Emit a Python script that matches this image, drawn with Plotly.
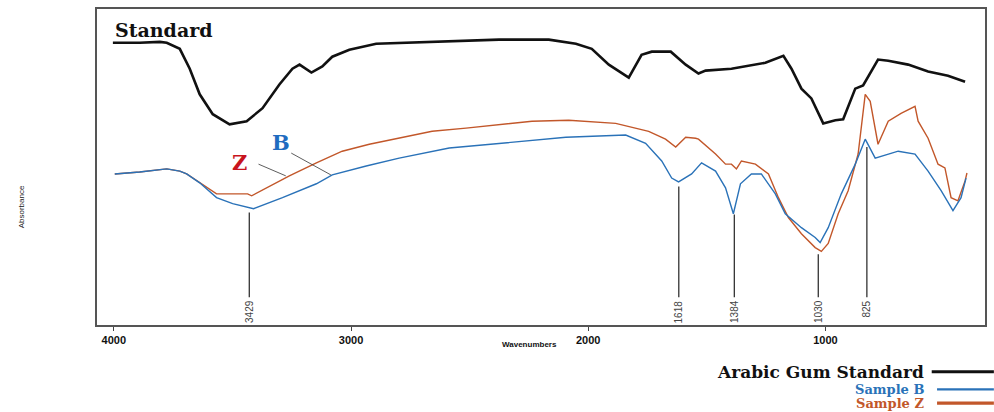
import numpy as np
import plotly.graph_objects as go

# ---------------- data ----------------
std_wn = [4004, 3891, 3806, 3777, 3722, 3680, 3638, 3583, 3512, 3440, 3373, 3302, 3247, 3217,
          3167, 3121, 3079, 3007, 2894, 2658, 2376, 2166, 2052, 1985, 1913, 1829, 1775, 1732,
          1652, 1589, 1535, 1505, 1396, 1253, 1177, 1143, 1101, 1059, 1009, 958, 925, 874, 841,
          778, 735, 651, 567, 483, 411]
std_abs = [89.3, 89.3, 89.6, 89.3, 87.4, 81.1, 73.0, 66.7, 63.5, 64.5, 68.6, 76.1, 81.1, 82.4,
           79.9, 81.8, 84.9, 87.1, 89.0, 89.6, 90.3, 90.3, 89.0, 87.4, 82.4, 78.3, 85.5, 86.5,
           86.5, 82.4, 79.6, 80.5, 81.1, 83.0, 85.2, 81.1, 74.8, 71.7, 63.8, 64.8, 65.1, 74.8, 75.8,
           84.0, 83.6, 82.4, 80.2, 78.9, 77.0]

z_wn = [3996, 3891, 3777, 3722, 3693, 3638, 3567, 3491, 3436, 3419, 3356, 3260, 3146, 3037,
        2923, 2797, 2658, 2515, 2376, 2237, 2082, 1884, 1745, 1674, 1631, 1589, 1547, 1535,
        1463, 1421, 1396, 1375, 1354, 1295, 1240, 1198, 1156, 1101, 1043, 1017, 988, 946, 904,
        862, 832, 811, 778, 735, 681, 622, 609, 567, 525, 496, 470, 441, 411, 403]
z_abs = [47.8, 48.4, 49.4, 48.7, 47.8, 45.0, 41.5, 41.5, 41.5, 40.9, 43.4, 47.2, 51.3, 55.0,
         57.2, 59.1, 61.3, 62.3, 63.5, 64.5, 64.8, 63.8, 61.3, 58.8, 56.3, 59.4, 59.1, 58.8,
         54.1, 50.9, 50.9, 49.4, 51.9, 50.9, 47.8, 40.3, 34.0, 28.9, 24.5, 23.3, 25.8, 35.2, 42.5,
         54.1, 73.0, 70.8, 57.2, 64.5, 67.0, 69.2, 64.5, 59.1, 50.9, 49.7, 40.3, 39.3, 45.6, 48.1]

b_wn = [3996, 3891, 3777, 3722, 3693, 3638, 3567, 3499, 3411, 3289, 3146, 3079, 2936, 2797,
        2586, 2376, 2094, 1842, 1758, 1690, 1648, 1619, 1564, 1522, 1463, 1421, 1388, 1358,
        1312, 1270, 1211, 1169, 1101, 1043, 1022, 988, 933, 874, 832, 790, 735, 693, 622, 567,
        512, 462, 428, 407]
b_abs = [47.8, 48.4, 49.4, 48.7, 47.8, 45.0, 40.3, 38.4, 36.8, 40.3, 44.7, 47.5, 50.3, 52.8,
         56.0, 57.5, 59.4, 60.1, 57.5, 51.9, 46.5, 45.3, 47.8, 51.3, 48.7, 43.4, 35.2, 44.7,
         47.8, 47.8, 41.5, 35.2, 30.8, 27.7, 26.1, 30.8, 41.5, 50.9, 58.8, 52.8, 54.1, 55.0, 54.1,
         48.7, 42.5, 36.2, 40.3, 46.5]

peak_wn = [3429, 1618, 1384, 1030, 825]
peak_labels = ["3429", "1618", "1384", "1030", "825"]
x_ticks = [4000, 3000, 2000, 1000]
x_tick_labels = ["4000", "3000", "2000", "1000"]

# ---------------- styles ----------------
C_STD = "#111111"
C_B = "#2a72b8"
C_Z = "#c2572a"
SERIF = "DejaVu Serif, Liberation Serif, serif"
SANS = "Liberation Sans, Arial, sans-serif"
NARROW = "Liberation Sans Narrow, Liberation Sans, sans-serif"

fig = go.Figure()
fig.add_trace(go.Scatter(x=std_wn, y=std_abs, mode="lines",
                         line=dict(color=C_STD, width=2.6), name="Arabic Gum Standard"))
fig.add_trace(go.Scatter(x=z_wn, y=z_abs, mode="lines",
                         line=dict(color=C_Z, width=1.4), name="Sample Z"))
fig.add_trace(go.Scatter(x=b_wn, y=b_abs, mode="lines",
                         line=dict(color=C_B, width=1.4), name="Sample B"))

# peak marker lines, from just below the lowest sample curve down to the label
bx = np.array(b_wn[::-1], dtype=float)
by = np.array(b_abs[::-1], dtype=float)
zx = np.array(z_wn[::-1], dtype=float)
zy = np.array(z_abs[::-1], dtype=float)
line_bottom = 8.8
px, py = [], []
for w in peak_wn:
    top = min(np.interp(w, bx, by), np.interp(w, zx, zy)) - 1.5
    px += [w, w, None]
    py += [top, line_bottom, None]
fig.add_trace(go.Scatter(x=px, y=py, mode="lines",
                         line=dict(color="#222222", width=1.2), hoverinfo="skip"))

for w, lab in zip(peak_wn, peak_labels):
    fig.add_annotation(x=w, y=line_bottom, xref="x", yref="y", text=lab, showarrow=False,
                       textangle=-90, yanchor="top", xanchor="center", yshift=-1,
                       font=dict(family=NARROW, size=10, color="#444444"))

# in-plot labels
fig.add_annotation(x=4004, y=93.5, xref="x", yref="y", text="<b>Standard</b>", showarrow=False,
                   xanchor="left", yanchor="middle", font=dict(family=SERIF, size=19, color="#111111"))
fig.add_annotation(x=3470, y=51.5, xref="x", yref="y", text="<b>Z</b>", showarrow=False,
                   font=dict(family=SERIF, size=21, color="#c8141e"))
fig.add_annotation(x=3295, y=57.8, xref="x", yref="y", text="<b>B</b>", showarrow=False,
                   font=dict(family=SERIF, size=21, color="#1f6cc0"))
# leader lines
fig.add_trace(go.Scatter(x=[3390, 3275, None, 3252, 3085], y=[50.9, 47.2, None, 54.4, 47.5],
                         mode="lines", line=dict(color="#333333", width=0.8), hoverinfo="skip"))

# axis titles
fig.add_annotation(x=0.487, y=-0.082, xref="paper", yref="paper", text="<b>Wavenumbers</b>",
                   showarrow=False, font=dict(family=SANS, size=8, color="#111111"))
fig.add_annotation(x=-0.092, y=0.375, xref="paper", yref="paper", text="Absorbance",
                   showarrow=False, textangle=-90, font=dict(family=SANS, size=8, color="#222222"))

# legend built from annotations + line shapes
leg = [("Arabic Gum Standard", C_STD, -0.148, 17, 3.2, 0.940),
       ("Sample B", C_B, -0.204, 13, 2.2, 0.946),
       ("Sample Z", C_Z, -0.247, 13, 3.2, 0.946)]
for text, col, yy, fs, lw, x0 in leg:
    fig.add_annotation(x=0.934, y=yy, xref="paper", yref="paper", text="<b>%s</b>" % text,
                       showarrow=False, xanchor="right", yanchor="middle",
                       font=dict(family=SERIF, size=fs, color=col))
    fig.add_shape(type="line", xref="paper", yref="paper", x0=x0, x1=1.01, y0=yy, y1=yy,
                  line=dict(color=col, width=lw))

fig.update_layout(
    width=994, height=412,
    margin=dict(l=97, r=7, t=7, b=87),
    paper_bgcolor="white", plot_bgcolor="white",
    showlegend=False,
    xaxis=dict(range=[4071, 327], tickvals=x_ticks, ticktext=["<b>%s</b>" % t for t in x_tick_labels],
               ticks="outside", ticklen=4, tickcolor="#444444", showgrid=False, zeroline=False,
               showline=True, linecolor="#555555", linewidth=1.5, mirror=True,
               tickfont=dict(family=SANS, size=11, color="#111111")),
    yaxis=dict(range=[0, 100], showticklabels=False, ticks="", showgrid=False, zeroline=False,
               showline=True, linecolor="#555555", linewidth=1.5, mirror=True),
)

fig.write_html("out.html")
